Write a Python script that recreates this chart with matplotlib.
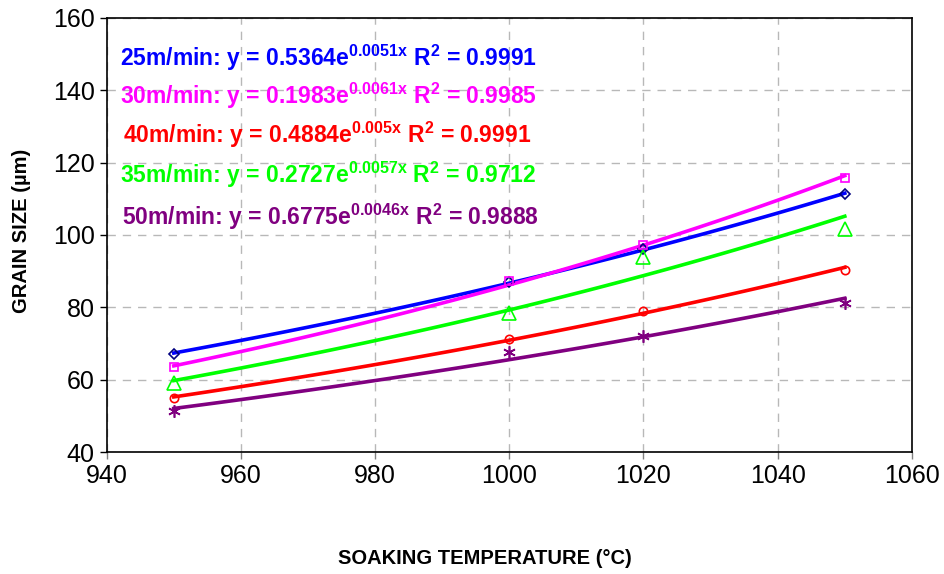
import numpy as np
import matplotlib
matplotlib.use('Agg')
import matplotlib.pyplot as plt

plt.rcParams['font.family'] = ['Liberation Sans', 'DejaVu Sans']
plt.rcParams['mathtext.fontset'] = 'custom'
plt.rcParams['mathtext.bf'] = 'Liberation Sans:bold'
plt.rcParams['mathtext.rm'] = 'Liberation Sans:bold'
plt.rcParams['mathtext.default'] = 'bf'

# soaking temperatures (C)
temps = [950, 1000, 1020, 1050]

# grain size (um) per rolling speed
speeds = ['25m/min', '30m/min', '40m/min', '35m/min', '50m/min']
size_25 = [67.2, 87.0, 96.0, 111.2]
size_30 = [63.4, 87.3, 97.2, 115.6]
size_40 = [55.0, 71.2, 78.9, 90.4]
size_35 = [59.0, 78.5, 94.0, 101.5]
size_50 = [51.2, 67.6, 72.0, 81.1]

labels = ['25m/min: y = 0.5364e$^{0.0051x}$ R$^2$ = 0.9991',
          '30m/min: y = 0.1983e$^{0.0061x}$ R$^2$ = 0.9985',
          '40m/min: y = 0.4884e$^{0.005x}$ R$^2$ = 0.9991',
          '35m/min: y = 0.2727e$^{0.0057x}$ R$^2$ = 0.9712',
          '50m/min: y = 0.6775e$^{0.0046x}$ R$^2$ = 0.9888']

series = [size_25, size_30, size_40, size_35, size_50]
line_cols = ['#0000ff', '#ff00ff', '#ff0000', '#00ff00', '#800080']
edge_cols = ['#000080', '#ff00ff', '#ff0000', '#00ff00', '#800080']
markers = ['D', 's', 'o', '^', (6, 2, 0)]
msizes = [5, 6, 6, 10, 9]
label_y = [58, 96, 135, 175, 217]
label_x = [120, 120, 123, 120, 122]

fig = plt.figure(figsize=(9.44, 5.74), dpi=100)
ax = fig.add_axes([0.113, 0.2125, 0.853, 0.7565])

xs = np.linspace(950, 1050, 120)
for vals, lc, ec, m, ms in zip(series, line_cols, edge_cols, markers, msizes):
    # exponential trendline fitted to the points
    b, a = np.polyfit(temps, np.log(vals), 1)
    ax.plot(xs, np.exp(a) * np.exp(b * xs), color=lc, lw=2.6, zorder=3)
    ax.plot(temps, vals, ls='none', marker=m, ms=ms, mfc='none',
            mec=ec, mew=1.2, zorder=4)

for txt, c, px, py in zip(labels, line_cols, label_x, label_y):
    fig.text(px / 944, 1 - py / 574, txt, color=c, fontsize=16.5,
             fontweight='bold', va='center', ha='left')

ax.set_xlim(940, 1060)
ax.set_ylim(40, 160)
ax.set_xticks(np.arange(940, 1061, 20))
ax.set_yticks(np.arange(40, 161, 20))
ax.tick_params(labelsize=18, direction='out', length=5, width=1)
ax.tick_params(axis='x', color='#808080')
ax.grid(True, color='#b8b8b8', ls=(0, (6, 5)), lw=1)
ax.set_axisbelow(True)
for s in ax.spines.values():
    s.set_linewidth(1.2)

fig.text(485 / 944, 1 - 559 / 574, 'SOAKING TEMPERATURE (°C)', fontsize=14.5,
         fontweight='bold', ha='center', va='center')
fig.text(22 / 944, 1 - 231 / 574, 'GRAIN SIZE (µm)', fontsize=14.5,
         fontweight='bold', ha='center', va='center', rotation=90)

fig.savefig('out.png', dpi=100)
